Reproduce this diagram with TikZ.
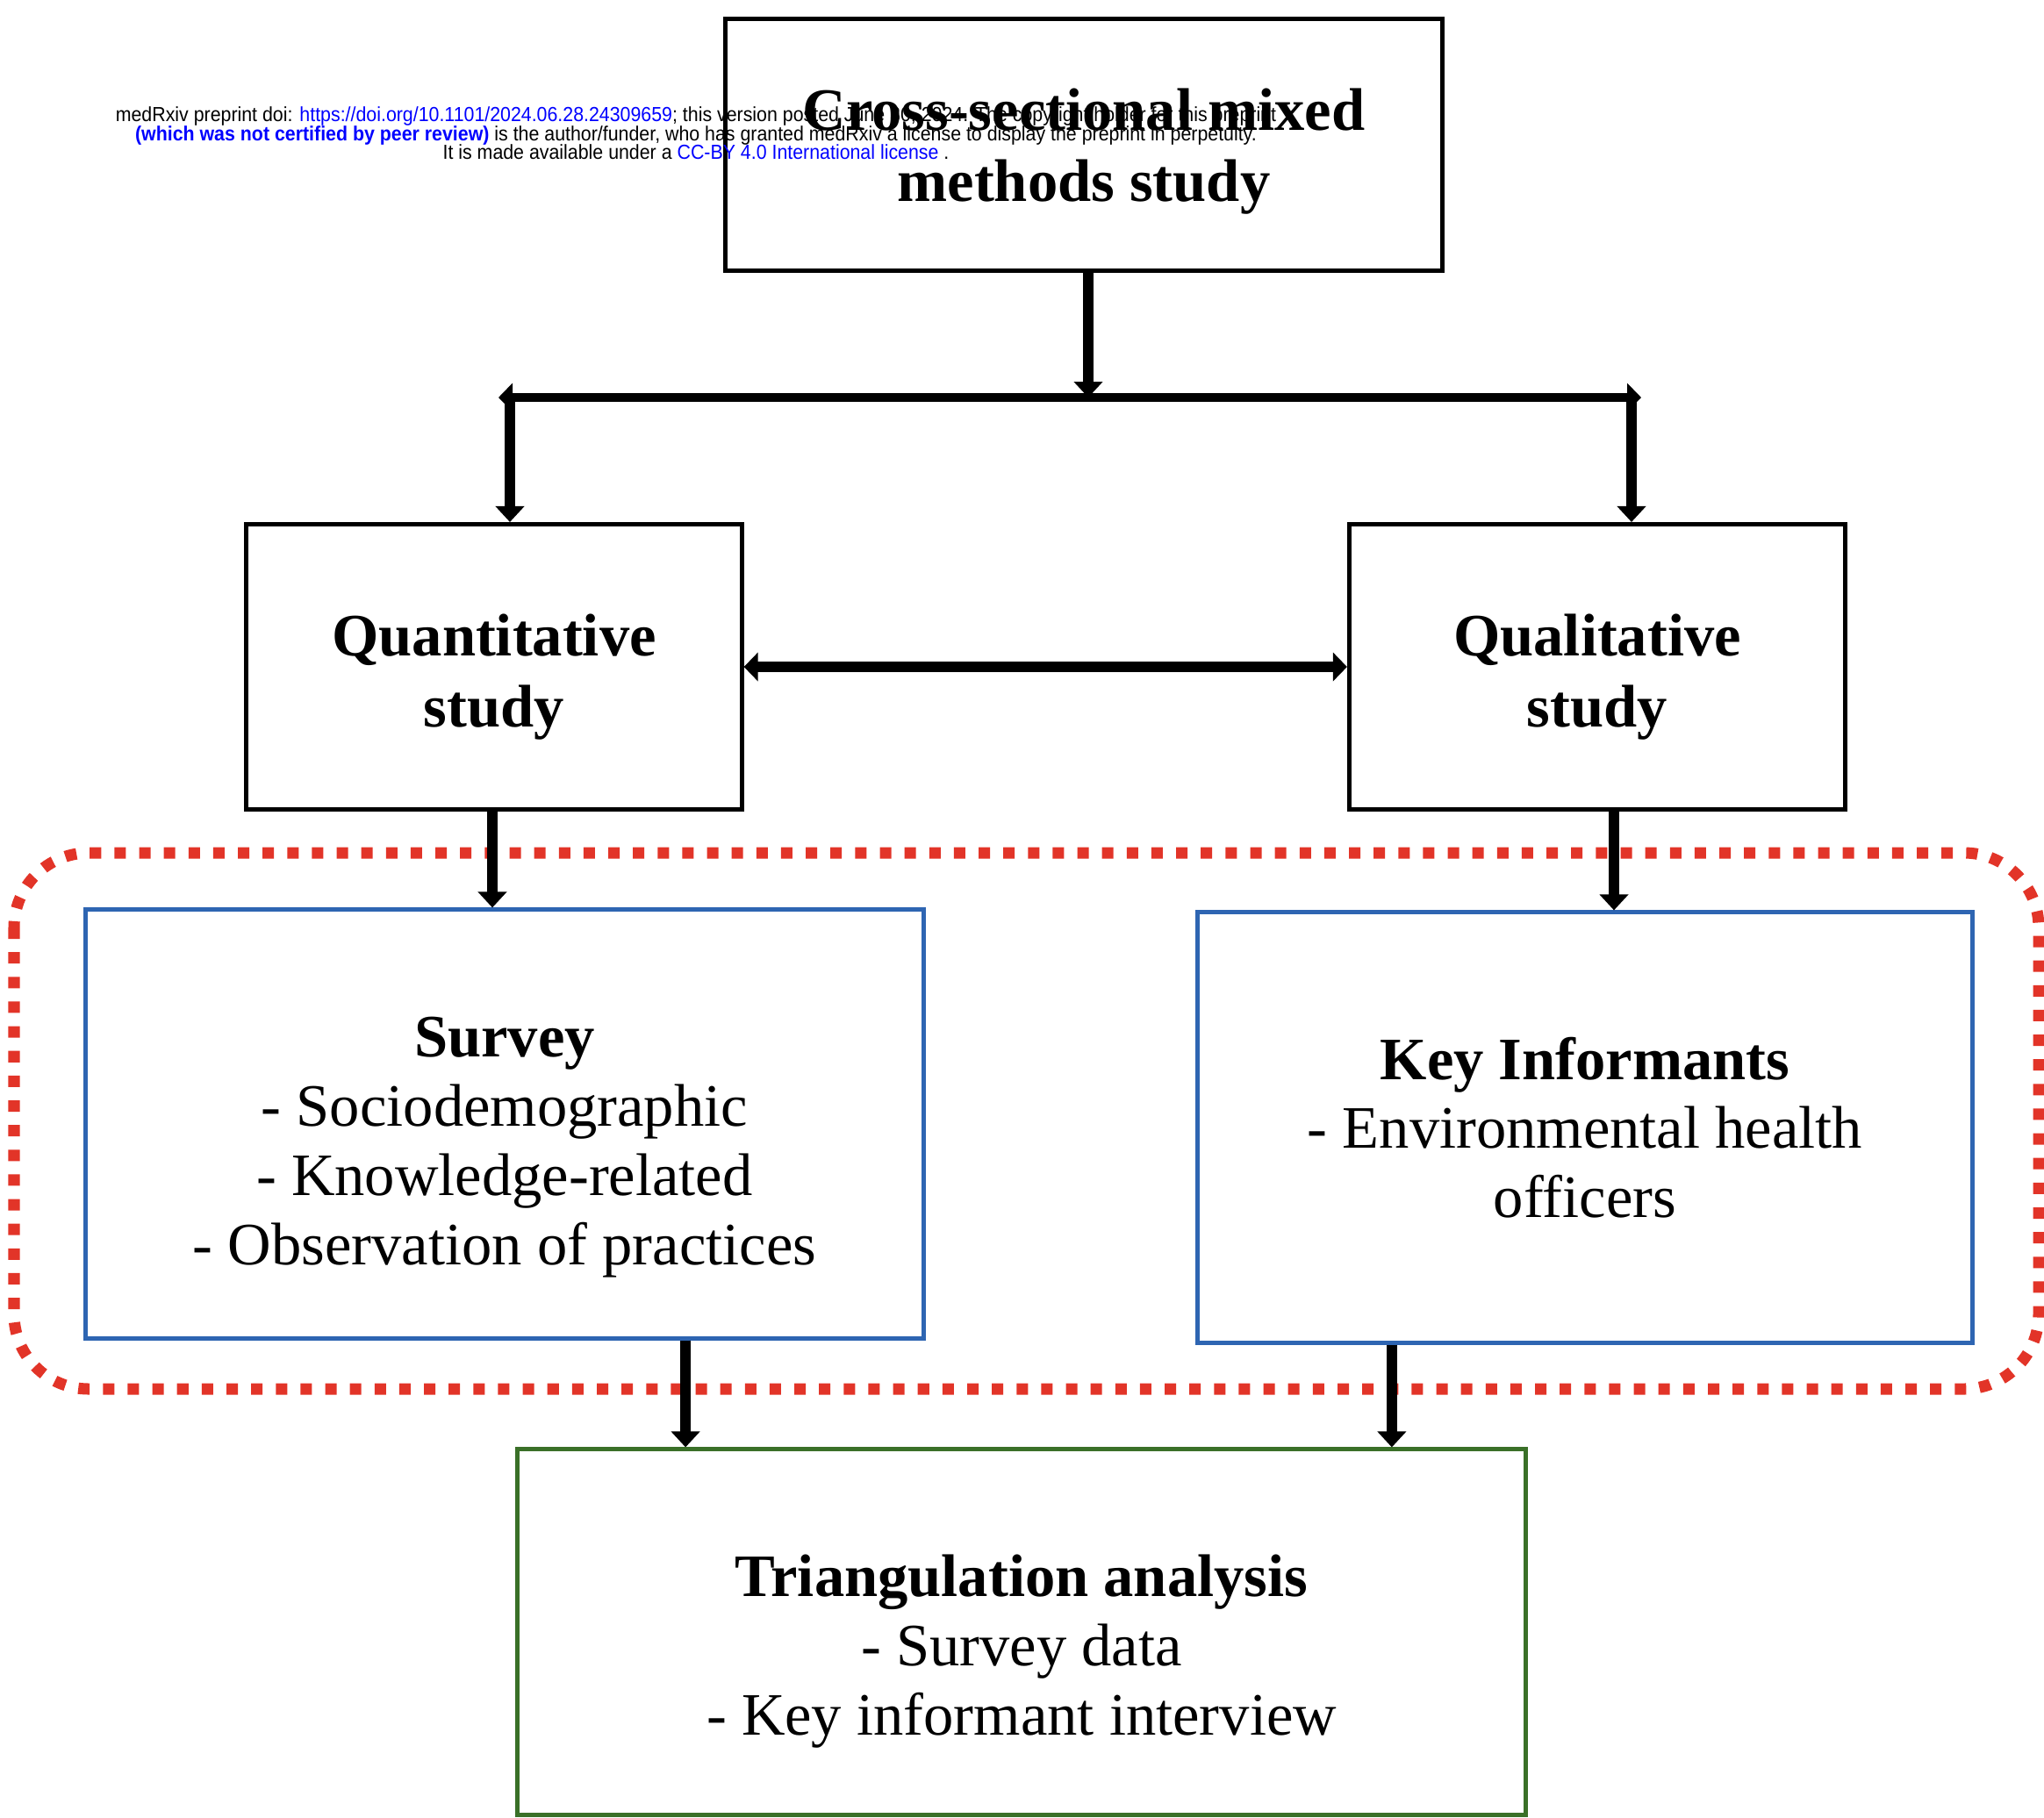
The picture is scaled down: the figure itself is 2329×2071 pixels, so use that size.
\documentclass[tikz,border=0pt]{standalone}
\usepackage{fontspec}
\usepackage{tikz}
\setmainfont{Liberation Serif}
\newfontfamily\noticefont[FakeStretch=0.92]{Liberation Sans}
\definecolor{boxblue}{RGB}{46, 101, 178}
\definecolor{boxgreen}{RGB}{58, 112, 40}
\definecolor{dotred}{RGB}{226, 52, 40}
\definecolor{linkblue}{RGB}{0, 0, 255}
\usetikzlibrary{arrows.meta,positioning,calc}
\newcommand{\topgap}[1]{\rule{0pt}{#1}}
\newcommand{\noticesize}{\fontsize{6.6}{6.1}\selectfont\lineskiplimit=-10pt\relax}

\begin{document}
\begin{tikzpicture}[
    x=0.01cm, y=-0.01cm,
    stagebox/.style={
        rectangle,
        draw=black,
        line width=1.4pt,
        inner sep=0pt,
        align=center,
        font=\fontsize{19.5}{22.4}\selectfont
    },
    arrow/.style={-{Triangle[width=0.32cm,length=0.18cm]}, line width=3.4pt},
    dualarrow/.style={{Triangle[width=0.32cm,length=0.16cm]}-{Triangle[width=0.32cm,length=0.16cm]}, line width=3.4pt},
    group/.style={dotred, line width=3.7pt, dash pattern=on 3.7pt off 4.3pt, rounded corners=0.85cm}
]
    \useasboundingbox (0,0) rectangle (2329,2071);

    % Dotted frame round the data sources
    \draw[group] (16,972) rectangle (2323,1583);

    % Study design
    \node[stagebox, font=\fontsize{19.5}{23}\selectfont, minimum width=8.17cm, minimum height=2.87cm] (design) at (1235,165)
        {\topgap{18pt}\textbf{Cross-sectional mixed}\\\textbf{methods study}};
    \node[stagebox, font=\fontsize{19.5}{23}\selectfont, minimum width=5.64cm, minimum height=3.25cm] (quant) at (563,760)
        {\topgap{20pt}\textbf{Quantitative}\\\textbf{study}};
    \node[stagebox, font=\fontsize{19.5}{23}\selectfont, minimum width=5.65cm, minimum height=3.25cm] (qual) at (1820,760)
        {\topgap{20pt}\textbf{Qualitative}\\\textbf{study}};

    % Data sources
    \node[stagebox, draw=boxblue, minimum width=9.55cm, minimum height=4.88cm] (survey) at (575,1281)
        {\topgap{28pt}\textbf{Survey}\\- Sociodemographic\\- Knowledge-related\\- Observation of practices};
    \node[stagebox, draw=boxblue, minimum width=8.82cm, minimum height=4.9cm] (keyinf) at (1806,1285)
        {\textbf{Key Informants}\\- Environmental health\\officers};

    % Analysis
    \node[stagebox, draw=boxgreen, minimum width=11.48cm, minimum height=4.16cm] (triang) at (1164,1860)
        {\topgap{26pt}\textbf{Triangulation analysis}\\- Survey data\\- Key informant interview};

    % Arrows
    \coordinate (splitL) at (581,453);
    \coordinate (splitR) at (1859,453);
    \draw[arrow] ([xshift=0.05cm]design.south) -- ([xshift=0.05cm]design.south |- splitL);
    \draw[dualarrow, line width=3pt, shorten <=-0.13cm, shorten >=-0.11cm] (splitL) -- (splitR);
    \draw[arrow] (splitL) -- (splitL |- quant.north);
    \draw[arrow] (splitR) -- (splitR |- qual.north);
    \draw[dualarrow] (quant.east) -- (qual.west);
    \draw[arrow] ([xshift=-0.02cm]quant.south) -- ([xshift=-0.02cm]quant.south |- survey.north);
    \draw[arrow] ([xshift=0.19cm]qual.south) -- ([xshift=0.19cm]qual.south |- keyinf.north);
    \draw[arrow] ([xshift=2.06cm]survey.south) -- ([xshift=2.06cm]survey.south |- triang.north);
    \draw[arrow] ([xshift=-2.2cm]keyinf.south) -- ([xshift=-2.2cm]keyinf.south |- triang.north);

    % Preprint notice
    \node[align=center, inner sep=0pt, font=\noticefont\noticesize] (notice) at (793,152)
        {medRxiv preprint doi: \textcolor{linkblue}{https://doi.org/10.1101/2024.06.28.24309659}; this version posted June 30, 2024. The copyright holder for this preprint\\
         \textcolor{linkblue}{\textbf{(which was not certified by peer review)}} is the author/funder, who has granted medRxiv a license to display the preprint in perpetuity.\\
         It is made available under a \textcolor{linkblue}{CC-BY 4.0 International license} .};
\end{tikzpicture}
\end{document}
